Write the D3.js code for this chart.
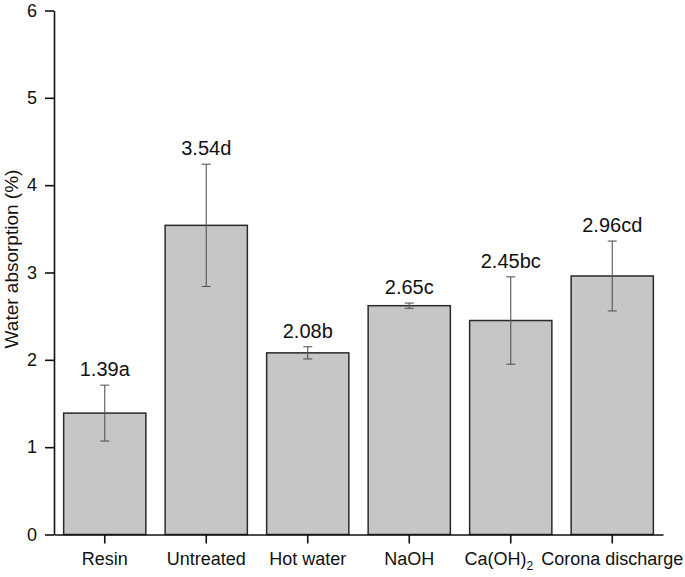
<!DOCTYPE html>
<html>
<head>
<meta charset="utf-8">
<script src="https://cdn.jsdelivr.net/npm/d3@7"></script>
<style>
  html, body { margin: 0; padding: 0; background: #fff; }
  svg { display: block; font-family: "Liberation Sans", Arial, Helvetica, sans-serif; }
</style>
</head>
<body>
<svg id="chart" width="685" height="577"></svg>
<script>
const categories = ["Resin", "Untreated", "Hot water", "NaOH", "Ca(OH)2", "Corona discharge"];
const means = [1.39, 3.54, 2.08, 2.62, 2.45, 2.96];
const errors = [0.32, 0.70, 0.07, 0.03, 0.50, 0.40];
const valueLabels = ["1.39a", "3.54d", "2.08b", "2.65c", "2.45bc", "2.96cd"];
const yTicks = [0, 1, 2, 3, 4, 5, 6];
const yTitle = "Water absorption (%)";

const svg = d3.select("#chart");
const x = d3.scaleBand().domain(categories).range([54, 663]).paddingInner(0.19).paddingOuter(0.095);
const y = d3.scaleLinear().domain([0, 6]).range([534.5, 10.5]);

const data = categories.map((c, i) => ({ c, m: means[i], e: errors[i], l: valueLabels[i] }));

// bars
svg.append("g").selectAll("rect").data(data).join("rect")
  .attr("x", d => x(d.c))
  .attr("y", d => y(d.m))
  .attr("width", x.bandwidth())
  .attr("height", d => y(0) - y(d.m))
  .attr("fill", "#c6c6c6")
  .attr("stroke", "#2a2a2a")
  .attr("stroke-width", 1.5);

// error bars
const eg = svg.append("g").attr("stroke", "#555").attr("stroke-width", 1.1);
data.forEach(d => {
  const cx = x(d.c) + x.bandwidth() / 2;
  eg.append("line").attr("x1", cx).attr("x2", cx).attr("y1", y(d.m + d.e)).attr("y2", y(d.m - d.e));
  eg.append("line").attr("x1", cx - 4.5).attr("x2", cx + 4.5).attr("y1", y(d.m + d.e)).attr("y2", y(d.m + d.e));
  eg.append("line").attr("x1", cx - 4.5).attr("x2", cx + 4.5).attr("y1", y(d.m - d.e)).attr("y2", y(d.m - d.e));
});

// value labels
svg.append("g").selectAll("text").data(data).join("text")
  .attr("x", d => x(d.c) + x.bandwidth() / 2)
  .attr("y", d => y(d.m + d.e) - 9)
  .attr("text-anchor", "middle")
  .attr("font-size", 20)
  .attr("fill", "#111")
  .text(d => d.l);

// y axis
const yAxis = svg.append("g").attr("transform", "translate(54,0)")
  .call(d3.axisLeft(y).tickValues(yTicks).tickFormat(d3.format("d")).tickSize(9).tickPadding(8).tickSizeOuter(0));
yAxis.attr("font-family", null);
yAxis.select(".domain").attr("stroke", "#111").attr("stroke-width", 1.6);
yAxis.selectAll(".tick line").attr("stroke", "#111").attr("stroke-width", 1.6);
yAxis.selectAll(".tick text").attr("font-size", 18).attr("fill", "#111");

// x axis
const xAxis = svg.append("g").attr("transform", "translate(0,534.5)")
  .call(d3.axisBottom(x).tickSize(9).tickPadding(9).tickSizeOuter(0));
xAxis.attr("font-family", null);
xAxis.select(".domain").attr("stroke", "#111").attr("stroke-width", 1.6);
xAxis.selectAll(".tick line").attr("stroke", "#111").attr("stroke-width", 1.6);
xAxis.selectAll(".tick text").attr("font-size", 18).attr("fill", "#111")
  .each(function(d) {
    if (d === "Ca(OH)2") {
      const t = d3.select(this);
      t.text("Ca(OH)").attr("dx", "-12");
      t.append("tspan").attr("font-size", 12).attr("dy", 5).text("2");
    }
  });

// y title
svg.append("text")
  .attr("transform", "translate(18,259) rotate(-90)")
  .attr("text-anchor", "middle")
  .attr("font-size", 19)
  .attr("fill", "#111")
  .text(yTitle);
</script>
</body>
</html>
